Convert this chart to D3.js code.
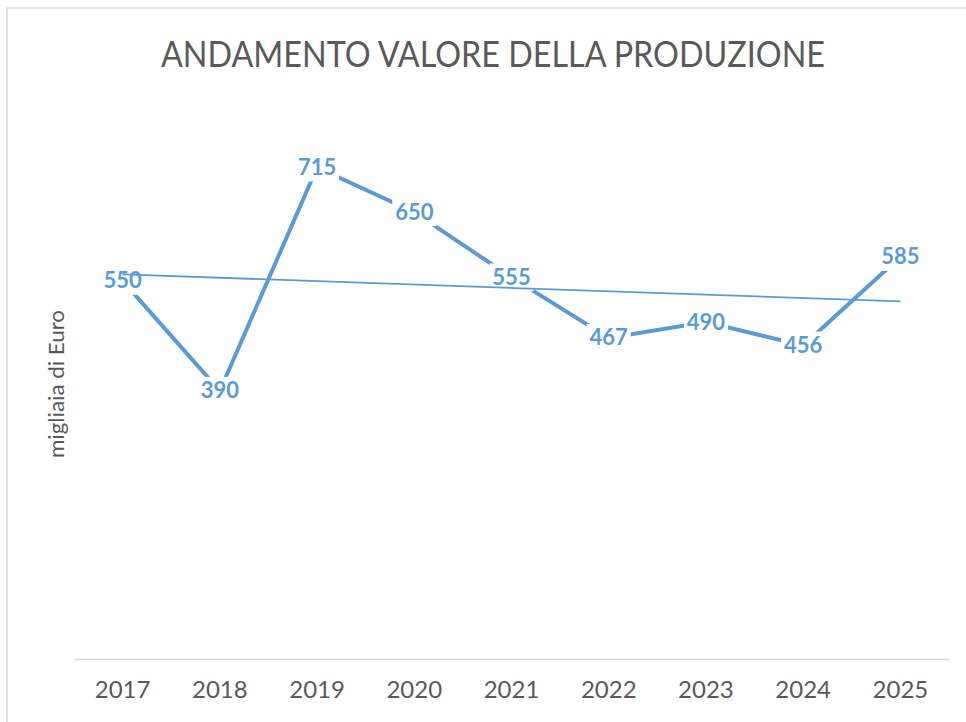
<!DOCTYPE html>
<html>
<head>
<meta charset="utf-8">
<script src="https://cdn.jsdelivr.net/npm/d3@7"></script>
<style>
  html, body { margin: 0; padding: 0; background: #fff; }
  svg { display: block; font-family: Lato, 'Open Sans', sans-serif; }
</style>
</head>
<body>
<div id="chart"></div>
<script>
const years = ['2017', '2018', '2019', '2020', '2021', '2022', '2023', '2024', '2025'];
const values = [550, 390, 715, 650, 555, 467, 490, 456, 585];
const yDomain = [0, 800];

const W = 966, H = 722;
const blue = '#5B9BD5';
const grey = '#595959';

const svg = d3.select('#chart').append('svg')
  .attr('width', W).attr('height', H);

// chart frame
svg.append('rect')
  .attr('x', 7).attr('y', 8)
  .attr('width', W + 10).attr('height', H + 10)
  .attr('fill', '#fff')
  .attr('stroke', '#d9d9d9').attr('stroke-width', 1.5);

const x = d3.scaleBand().domain(years).range([74, 949]);
const y = d3.scaleLinear().domain(yDomain).range([659, 109]);
const cx = d => x(d) + x.bandwidth() / 2;

// title
svg.append('text')
  .attr('x', 493).attr('y', 67)
  .attr('text-anchor', 'middle')
  .attr('fill', grey)
  .attr('font-size', 37)
  .attr('font-weight', 400)
  .attr('textLength', 664)
  .attr('lengthAdjust', 'spacingAndGlyphs')
  .text('ANDAMENTO VALORE DELLA PRODUZIONE');

// y axis title
svg.append('text')
  .attr('transform', 'translate(64,384) rotate(-90)')
  .attr('text-anchor', 'middle')
  .attr('fill', grey)
  .attr('font-size', 21)
  .attr('textLength', 148)
  .attr('lengthAdjust', 'spacingAndGlyphs')
  .text('migliaia di Euro');

// x axis
const xAxis = svg.append('g')
  .attr('transform', `translate(0,${y(0)})`)
  .call(d3.axisBottom(x).tickSize(0).tickPadding(22));
xAxis.select('.domain').attr('stroke', '#d9d9d9').attr('stroke-width', 1.5);
xAxis.selectAll('text')
  .attr('fill', grey)
  .attr('font-size', 24)
  .attr('font-family', 'Lato, sans-serif');

const pts = years.map((yr, i) => ({ yr, v: values[i], px: cx(yr), py: y(values[i]) }));

// main line
svg.append('path')
  .datum(pts)
  .attr('fill', 'none')
  .attr('stroke', blue)
  .attr('stroke-width', 4)
  .attr('d', d3.line().x(d => d.px).y(d => d.py));

// label knock-outs (Excel draws labels over the line)
const labelW = 44, labelH = 28;
svg.selectAll('.knock')
  .data(pts)
  .join('rect')
  .attr('x', d => d.px - labelW / 2)
  .attr('y', d => d.py - labelH / 2)
  .attr('width', labelW).attr('height', labelH)
  .attr('fill', '#fff');

// linear trend line (least squares over category index)
const n = values.length;
const xs = d3.range(1, n + 1);
const mx = d3.mean(xs), my = d3.mean(values);
const slope = d3.sum(xs, (xi, i) => (xi - mx) * (values[i] - my)) / d3.sum(xs, xi => (xi - mx) ** 2);
const icpt = my - slope * mx;
svg.append('line')
  .attr('x1', cx(years[0])).attr('y1', y(icpt + slope * 1))
  .attr('x2', cx(years[n - 1])).attr('y2', y(icpt + slope * n))
  .attr('stroke', blue)
  .attr('stroke-width', 1.8);

// data labels
svg.selectAll('.lbl')
  .data(pts)
  .join('text')
  .attr('x', d => d.px)
  .attr('y', d => d.py + 7.5)
  .attr('text-anchor', 'middle')
  .attr('fill', blue)
  .attr('font-size', 22)
  .attr('font-weight', 700)
  .text(d => d.v);
</script>
</body>
</html>
